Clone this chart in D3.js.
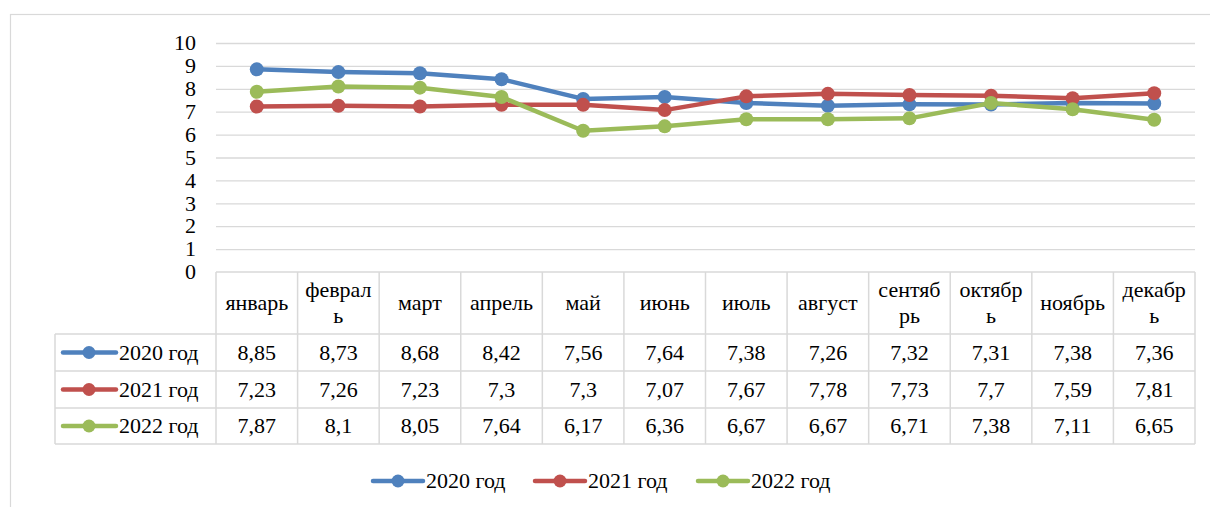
<!DOCTYPE html>
<html>
<head>
<meta charset="utf-8">
<script src="https://cdn.jsdelivr.net/npm/d3@7"></script>
<style>body { margin: 0; background: #fff; }</style>
</head>
<body>
<svg id="chart"></svg>
<script>
// months as they appear in the table header (Excel breaks long words)
const months = [["январь"], ["феврал", "ь"], ["март"], ["апрель"], ["май"], ["июнь"],
  ["июль"], ["август"], ["сентяб", "рь"], ["октябр", "ь"], ["ноябрь"], ["декабр", "ь"]];
const seriesNames = ["2020 год", "2021 год", "2022 год"];
const colors = ["#4F81BD", "#C0504D", "#9BBB59"];
const v2020 = [8.85, 8.73, 8.68, 8.42, 7.56, 7.64, 7.38, 7.26, 7.32, 7.31, 7.38, 7.36];
const v2021 = [7.23, 7.26, 7.23, 7.3, 7.3, 7.07, 7.67, 7.78, 7.73, 7.7, 7.59, 7.81];
const v2022 = [7.87, 8.1, 8.05, 7.64, 6.17, 6.36, 6.67, 6.67, 6.71, 7.38, 7.11, 6.65];
const yTicks = [0, 1, 2, 3, 4, 5, 6, 7, 8, 9, 10];

const series = [v2020, v2021, v2022];
const W = 1210, H = 507;
const fs = 22;
const fmt = v => String(v).replace(".", ",");

const svg = d3.select("#chart").attr("width", W).attr("height", H)
  .attr("font-family", "Liberation Serif");

// every label goes through this so the serif font is set inline
function label(sel) {
  return sel.attr("font-family", "Liberation Serif").attr("font-size", fs)
    .style("font-family", "Liberation Serif").attr("fill", "#000");
}

// chart area border
svg.append("rect")
  .attr("x", 10.5).attr("y", 14.5)
  .attr("width", W).attr("height", H)
  .attr("fill", "none").attr("stroke", "#D9D9D9").attr("stroke-width", 1.2);

const x = d3.scaleBand().domain(d3.range(12)).range([216, 1195]);
const y = d3.scaleLinear().domain([0, 10]).range([272, 43]);

// gridlines
svg.append("g")
  .selectAll("line").data(yTicks.slice(1)).join("line")
  .attr("x1", 216).attr("x2", 1195)
  .attr("y1", d => y(d) + 0.5).attr("y2", d => y(d) + 0.5)
  .attr("stroke", "#D9D9D9").attr("stroke-width", 1.3);

// y labels
svg.append("g").selectAll("text").data(yTicks).join("text")
  .call(label)
  .attr("x", 196).attr("y", d => y(d)).attr("dy", "0.33em")
  .attr("text-anchor", "end")
  .text(d => d);

// table
const tLeft = 55, rowY = [272, 334, 371, 408, 444];
const grid = svg.append("g").attr("stroke", "#D9D9D9").attr("stroke-width", 1.5).attr("fill", "none");
grid.append("line").attr("x1", 216).attr("x2", 1195).attr("y1", rowY[0]).attr("y2", rowY[0]);
rowY.slice(1).forEach(ry => grid.append("line").attr("x1", tLeft).attr("x2", 1195).attr("y1", ry).attr("y2", ry));
grid.append("line").attr("x1", tLeft).attr("x2", tLeft).attr("y1", rowY[1]).attr("y2", rowY[4]);
d3.range(13).forEach(i => {
  const xx = i < 12 ? x(i) : x.range()[1];
  grid.append("line").attr("x1", xx).attr("x2", xx).attr("y1", rowY[0]).attr("y2", rowY[4]);
});

// header labels
months.forEach((m, i) => {
  const cx = x(i) + x.bandwidth() / 2;
  const mid = (rowY[0] + rowY[1]) / 2;
  const t = svg.append("text").call(label)
    .attr("x", cx).attr("y", mid - (m.length - 1) * 13)
    .attr("text-anchor", "middle");
  m.forEach((part, k) => {
    t.append("tspan").attr("x", cx).attr("dy", k === 0 ? "0.34em" : 26).text(part);
  });
});

// row values + legend keys in the table
series.forEach((vals, s) => {
  const cy = (rowY[s + 1] + rowY[s + 2]) / 2;
  svg.append("line").attr("x1", 63).attr("x2", 116).attr("y1", cy).attr("y2", cy)
    .attr("stroke", colors[s]).attr("stroke-width", 4.5).attr("stroke-linecap", "round");
  svg.append("circle").attr("cx", 89).attr("cy", cy).attr("r", 6.5).attr("fill", colors[s]);
  svg.append("text").call(label)
    .attr("x", 119).attr("y", cy).attr("dy", "0.34em")
    .text(seriesNames[s]);
  svg.append("g").selectAll("text").data(vals).join("text").call(label)
    .attr("x", (d, i) => x(i) + x.bandwidth() / 2)
    .attr("y", cy).attr("dy", "0.34em")
    .attr("text-anchor", "middle")
    .text(fmt);
});

// lines and markers
const line = d3.line().x((d, i) => x(i) + x.bandwidth() / 2).y(d => y(d));
series.forEach((vals, s) => {
  const g = svg.append("g");
  g.append("path").attr("d", line(vals)).attr("fill", "none")
    .attr("stroke", colors[s]).attr("stroke-width", 4.5).attr("stroke-linejoin", "round").attr("stroke-linecap", "round");
  g.selectAll("circle").data(vals).join("circle")
    .attr("cx", (d, i) => x(i) + x.bandwidth() / 2).attr("cy", d => y(d))
    .attr("r", 7).attr("fill", colors[s]);
});

// legend at the bottom
const legX = [373, 535, 698];
series.forEach((vals, s) => {
  const cy = 481;
  svg.append("line").attr("x1", legX[s]).attr("x2", legX[s] + 50).attr("y1", cy).attr("y2", cy)
    .attr("stroke", colors[s]).attr("stroke-width", 4.5).attr("stroke-linecap", "round");
  svg.append("circle").attr("cx", legX[s] + 25).attr("cy", cy).attr("r", 6.5).attr("fill", colors[s]);
  svg.append("text").call(label)
    .attr("x", legX[s] + 53).attr("y", cy).attr("dy", "0.34em")
    .text(seriesNames[s]);
});
</script>
</body>
</html>
